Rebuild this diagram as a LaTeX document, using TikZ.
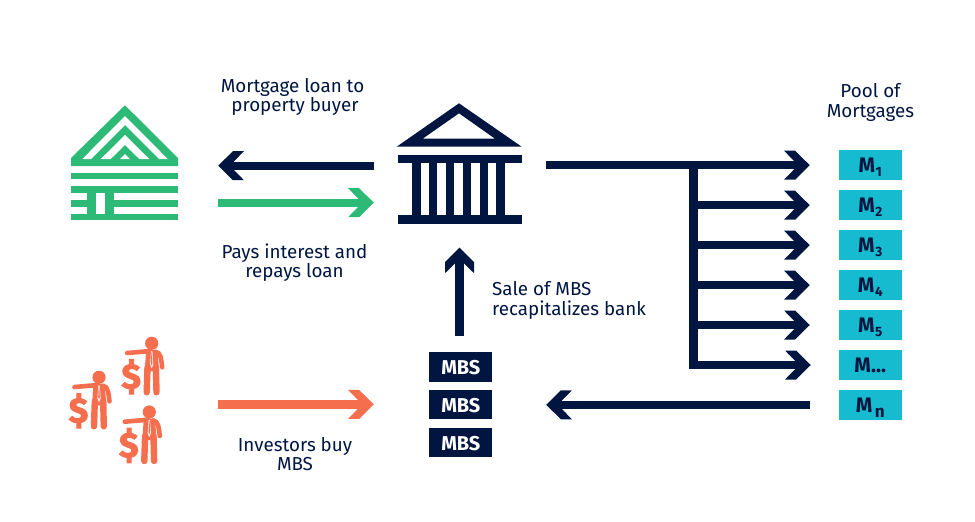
\documentclass[tikz,border=0pt]{standalone}
\usepackage{fontspec}
\setmainfont{Fira Sans}
\newfontfamily\dollarfont[BoldFeatures={FakeBold=3}]{Fira Sans}
\usetikzlibrary{calc}

\definecolor{navy}{HTML}{001641}
\definecolor{leaf}{HTML}{2DB976}
\definecolor{coral}{HTML}{F56E4E}
\definecolor{teal}{HTML}{17BBD0}

\pgfdeclarearrow{
  name=chevron,
  setup code={
    \pgfarrowssettipend{0pt}
    \pgfarrowssetbackend{-25.7pt}
    \pgfarrowssetlineend{-15pt}
    \pgfarrowssetvisualbackend{-15pt}
  },
  drawing code={
    \pgfpathmoveto{\pgfqpoint{0pt}{0pt}}
    \pgfpathlineto{\pgfqpoint{-14.7pt}{14.5pt}}
    \pgfpathlineto{\pgfqpoint{-25.7pt}{14.5pt}}
    \pgfpathlineto{\pgfqpoint{-15.7pt}{4.2pt}}
    \pgfpathlineto{\pgfqpoint{-15.7pt}{-4.2pt}}
    \pgfpathlineto{\pgfqpoint{-25.7pt}{-14.5pt}}
    \pgfpathlineto{\pgfqpoint{-14.7pt}{-14.5pt}}
    \pgfpathclose
    \pgfusepathqfill
  }
}

\newcommand{\msub}[1]{M\kern0.6pt\raisebox{-4pt}{\fontsize{13.5}{13.5}\selectfont #1}}

\tikzset{
  flow/.style={line width=8.4pt,->},
  caption/.style={text=navy,align=center,inner sep=0pt,font=\fontsize{18.8}{19.5}\selectfont},
  mbsbox/.style={fill=navy,text=white,minimum width=63pt,minimum height=29.5pt,inner sep=0pt,text height=15.5pt,text depth=0pt,font=\fontsize{20}{20}\selectfont\bfseries},
  mortgage/.style={fill=teal,text=navy,minimum width=63.3pt,minimum height=30pt,inner sep=0pt,text height=15.5pt,text depth=0pt,font=\fontsize{21}{21}\selectfont\bfseries},
  iconbox/.style={inner sep=0pt,draw=none},
  investor/.pic={
    \node (-dollar) at (-20.5,33.5) [iconbox,text=coral,font=\dollarfont\fontsize{35}{35}\selectfont\bfseries] {\$};
    \fill[coral] (0,0) circle (6.6);
    \draw[coral,line width=4.6pt,line cap=round] (-24.5,9.7) -- (-2,7.8);
    \fill[coral] (-5.5,6.5) -- (5.5,6.5) -- (7.5,28) -- (-7,28) -- cycle;
    \draw[coral,line width=6.4pt,line cap=round] (-4.2,24) -- (-5,49);
    \draw[coral,line width=6.4pt,line cap=round] (4.2,24) -- (4.8,49);
    \draw[coral,line width=4.6pt,line cap=round] (4,8.5) .. controls (9,9) and (9.5,16) .. (10.5,24);
    \fill[white] (-0.7,8) -- (0.7,8) -- (1.6,21) -- (0,25) -- (-1.6,21) -- cycle;
    \fill[coral] (-0.3,9) -- (0.3,9) -- (0.8,20) -- (0,22.5) -- (-0.8,20) -- cycle;
  }
}

\begin{document}
\begin{tikzpicture}[x=1pt,y=-1pt,>=chevron]
\useasboundingbox (0,0) rectangle (975,522);
%%
\node (node_house) at (124.5,163) [iconbox,minimum width=107pt,minimum height=116pt] {};
\node (node_bank) at (459.5,163.5) [iconbox,minimum width=125pt,minimum height=121pt] {};
\node (node_crowd) at (118,400) [iconbox,minimum width=94pt,minimum height=130pt] {};

% house
\fill[leaf] (125,105.3) -- (178,158) -- (178,166) -- (71,166) -- (71,158) -- cycle;
\fill[white] (82.3,159) -- (125,116) -- (167.7,159) -- (159,159) -- (125,125) -- (91,159) -- cycle;
\fill[white] (100.7,159) -- (125,135) -- (149.3,159) -- (139.3,159) -- (125,145) -- (110.7,159) -- cycle;
\fill[white] (120,159) -- (125,154) -- (130,159) -- cycle;
\foreach \y in {172.7,186.3,200,213.7}
  \fill[leaf] (71,\y) rectangle (178,\y+6.7);
\fill[leaf] (87.3,186.3) rectangle (114,220.4);
\fill[white] (96,193) rectangle (105,213.7);

% bank
\fill[navy,even odd rule] (459,103.3) -- (521.7,146.7) -- (396.7,146.7) -- cycle
  (459,113.3) -- (495,138.7) -- (422.7,138.7) -- cycle;
\fill[navy] (398,155) rectangle (522,163.3);
\fill[navy] (398,215.3) rectangle (522,223.7);
\foreach \i in {0,...,5}
  \fill[navy] (412.3+\i*16.8,160) rectangle (420.6+\i*16.8,218);

% investors
\pic (node_inv1) at (151.7,343.3) {investor};
\pic (node_inv2) at (99,377.3) {investor};
\pic (node_inv3) at (149.3,412) {investor};

\node (node_mbs1) at (460.8,367) [mbsbox] {MBS};
\node (node_mbs2) at (460.8,404.4) [mbsbox] {MBS};
\node (node_mbs3) at (460.8,442.4) [mbsbox] {MBS};

\node (node_m1) at (870.3,165.2) [mortgage] {\msub{1}};
\node (node_m2) at (870.3,205.2) [mortgage] {\msub{2}};
\node (node_m3) at (870.3,245.2) [mortgage] {\msub{3}};
\node (node_m4) at (870.3,285.2) [mortgage] {\msub{4}};
\node (node_m5) at (870.3,325) [mortgage] {\msub{5}};
\node (node_m6) at (870.3,365) [mortgage] {M...};
\node (node_m7) at (870.3,404.8) [mortgage] {M\kern2.5pt\raisebox{-5pt}{\fontsize{17}{17}\selectfont n}};

\node (node_t1) at (292.5,97) [caption] {Mortgage loan to\\\hspace*{5pt}property buyer};
\node (node_t2) at (294.5,262.5) [caption] {Pays interest and\\repays loan};
\node (node_t3) at (295,454) [caption] {Investors buy\\MBS};
\node (node_t4) at (492,300.5) [caption,align=left,anchor=west] {Sale of MBS\\recapitalizes bank};
\node (node_t5) at (870.5,102.5) [caption] {Pool of\\Mortgages};

\coordinate (node_trunk) at (693.5,165.5);

\draw [navy,flow,shorten <=23pt,shorten >=40pt] (node_bank.west |- 0,165.7) -- (node_house.east |- 0,165.7);
\draw [leaf,flow,shorten <=40pt,shorten >=23pt] (node_house.east |- 0,202.7) -- (node_bank.west |- 0,202.7);
\draw [coral,flow,shorten <=53pt,shorten >=55.3pt] (node_crowd.east |- node_mbs2) -- (node_mbs2.west);
\draw [navy,flow,shorten <=15.6pt,shorten >=23.3pt] (node_mbs1.north -| node_bank) -- (node_bank.south);
\draw [navy,flow,shorten <=24pt,shorten >=28.7pt] (node_bank.east |- node_m1) -- (node_m1.west);
\foreach \i in {2,...,5}
  \draw [navy,flow,shorten >=28.7pt] (node_trunk |- node_m\i) -- (node_m\i.west);
\draw [navy,flow,shorten >=27.7pt] (node_trunk) |- (node_m6.west);
\draw [navy,flow,shorten <=28.7pt,shorten >=53.7pt] (node_m7.west) -- (node_mbs2.east |- node_m7);
%
\end{tikzpicture}
\end{document}
